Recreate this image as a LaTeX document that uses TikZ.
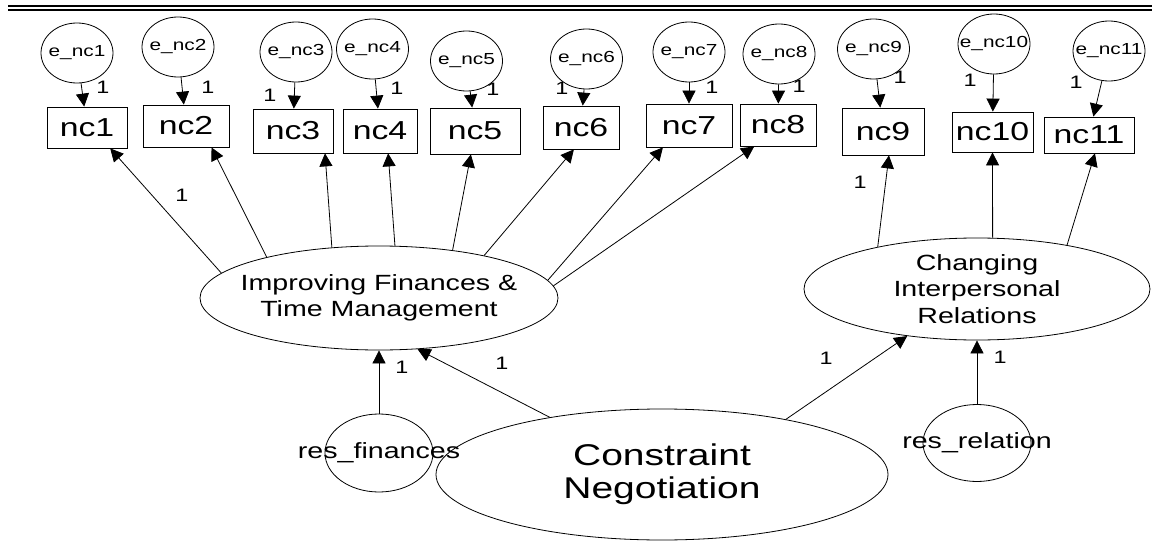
\documentclass[tikz,border=0pt]{standalone}
\usepackage{fontspec}
\setmainfont{Liberation Sans}[FakeStretch=1.3]
\usetikzlibrary{arrows.meta, shapes.geometric}

\begin{document}
\begin{tikzpicture}[
  x=1pt, y=-1pt,
  >={Triangle[length=13pt, width=13pt]},
  line width=0.8pt,
  obs/.style={draw, rectangle, inner sep=0pt, font=\fontsize{26pt}{30pt}\selectfont},
  err/.style={draw, ellipse, inner xsep=-14pt, inner ysep=0pt, minimum width=72pt, minimum height=60pt, font=\fontsize{16pt}{19pt}\selectfont},
  latent/.style={draw, ellipse, inner xsep=-30pt, inner ysep=-10pt, align=center, font=\fontsize{22pt}{26.5pt}\selectfont},
  res/.style={draw, ellipse, inner xsep=-60pt, inner ysep=0pt, minimum width=108pt, minimum height=78pt, font=\fontsize{22pt}{26pt}\selectfont},
  wt/.style={inner sep=0pt, font=\fontsize{18pt}{21pt}\selectfont}
]
  \fill[white] (0,0) rectangle (1152,551);
  \useasboundingbox (0,0) rectangle (1152,551);

  % double rule at the top
  \draw[line width=2.4pt] (8,6.2) -- (1152,6.2);
  \draw[line width=1.6pt] (8,10.2) -- (1152,10.2);

  % observed variables
  \node[obs, minimum width=80pt, minimum height=41pt] (nc1) at (87,127.5) {nc1};
  \node[obs, minimum width=86pt, minimum height=42pt] (nc2) at (186,126) {nc2};
  \node[obs, minimum width=80pt, minimum height=44pt] (nc3) at (293,131) {nc3};
  \node[obs, minimum width=74pt, minimum height=44pt] (nc4) at (380,131) {nc4};
  \node[obs, minimum width=90pt, minimum height=46pt] (nc5) at (475,131) {nc5};
  \node[obs, minimum width=76pt, minimum height=43pt] (nc6) at (581,127.5) {nc6};
  \node[obs, minimum width=86pt, minimum height=43pt] (nc7) at (689,125.5) {nc7};
  \node[obs, minimum width=76pt, minimum height=42pt] (nc8) at (778,125) {nc8};
  \node[obs, minimum width=82pt, minimum height=47pt] (nc9) at (883,131.5) {nc9};
  \node[obs, minimum width=81pt, minimum height=40pt] (nc10) at (992.5,132) {nc10};
  \node[obs, minimum width=90pt, minimum height=36pt] (nc11) at (1089,135) {nc11};

  % error terms
  \node[err] (enc1) at (77,53) {e\_nc1};
  \node[err] (enc2) at (178,47) {e\_nc2};
  \node[err] (enc3) at (296,52) {e\_nc3};
  \node[err] (enc4) at (372.5,49) {e\_nc4};
  \node[err] (enc5) at (466.5,61) {e\_nc5};
  \node[err] (enc6) at (586.5,59) {e\_nc6};
  \node[err] (enc7) at (689,52) {e\_nc7};
  \node[err] (enc8) at (779,54) {e\_nc8};
  \node[err] (enc9) at (873.5,49) {e\_nc9};
  \node[err] (enc10) at (994,44) {e\_nc10};
  \node[err] (enc11) at (1109,51) {e\_nc11};

  \draw[->] (enc1) -- (nc1);
  \draw[->] (enc2) -- (nc2);
  \draw[->] (enc3) -- (nc3);
  \draw[->] (enc4) -- (nc4);
  \draw[->] (enc5) -- (nc5);
  \draw[->] (enc6) -- (nc6);
  \draw[->] (enc7) -- (nc7);
  \draw[->] (enc8) -- (nc8);
  \draw[->] (enc9) -- (nc9);
  \draw[->] (enc10) -- (nc10);
  \draw[->] (enc11) -- (nc11);

  \node[wt] (wnc1) at (103,87) {1};
  \node[wt] (wnc2) at (208,87) {1};
  \node[wt] (wnc3) at (270,95) {1};
  \node[wt] (wnc4) at (397,88) {1};
  \node[wt] (wnc5) at (493,89) {1};
  \node[wt] (wnc6) at (562,88) {1};
  \node[wt] (wnc7) at (712,87) {1};
  \node[wt] (wnc8) at (799,86) {1};
  \node[wt] (wnc9) at (900,77) {1};
  \node[wt] (wnc10) at (970,80) {1};
  \node[wt] (wnc11) at (1076,82) {1};

  % latent variables
  \node[latent, minimum width=358pt, minimum height=104pt] (finances) at (379,298) {Improving Finances \&\\Time Management};
  \node[latent, minimum width=346pt, minimum height=102pt] (relations) at (977,289) {Changing\\Interpersonal\\Relations};
  \node[latent, minimum width=452pt, minimum height=131pt, font=\fontsize{30pt}{33pt}\selectfont] (negotiation) at (662,474.5) {Constraint\\Negotiation};
  \node[res] (resfin) at (379,453) {res\_finances};
  \node[res, minimum height=77pt] (resrel) at (977,443) {res\_relation};

  % loadings
  \draw[->] (finances.171) -- (nc1.-42);
  \draw[->] (finances.160) -- (nc2.-40);
  \draw[->] (finances.133) -- (nc3.-35);
  \draw[->] (finances.73) -- (nc4.-70);
  \draw[->] (finances.33) -- (nc5.-100);
  \draw[->] (finances.22) -- (nc6.-108);
  \draw[->] (finances.6) -- (nc7.-140);
  \draw[->] (finances.4) -- (nc8.-138);
  \draw[->] (relations.157) -- (nc9.-76);
  \draw[->] (relations.73) -- (nc10.south);
  \draw[->] (relations.26) -- (nc11.-72);

  \draw[->] (negotiation.153) -- (finances.-53);
  \draw[->] (negotiation.24) -- (relations.214);
  \draw[->] (resfin) -- (finances);
  \draw[->] (resrel) -- (relations);

  \node[wt] (lnc1) at (182,195) {1};
  \node[wt] (lnc9) at (860,182) {1};
  \node[wt] (lresfin) at (402,367) {1};
  \node[wt] (lnegfin) at (502,363) {1};
  \node[wt] (lnegrel) at (826,358) {1};
  \node[wt] (lresrel) at (1000,357) {1};
\end{tikzpicture}
\end{document}
